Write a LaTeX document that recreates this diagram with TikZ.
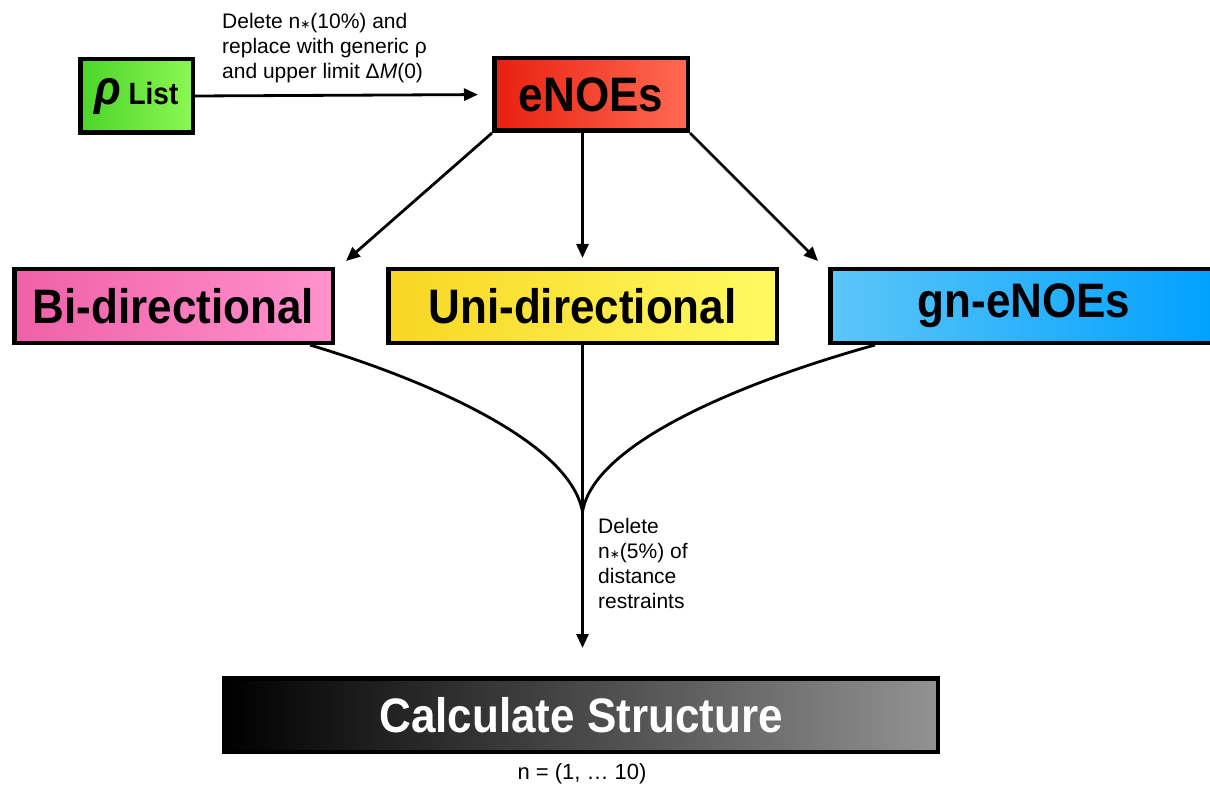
\documentclass[tikz,border=0pt]{standalone}
\usepackage{graphicx}
\usepackage{fontspec}
\setmainfont{Liberation Sans}
\newfontfamily\symfont{DejaVu Sans}
\usetikzlibrary{arrows.meta}
\definecolor{grnL}{HTML}{4CD42A}
\definecolor{grnR}{HTML}{8AF852}
\definecolor{redL}{HTML}{E82010}
\definecolor{redR}{HTML}{FF6A52}
\definecolor{pnkL}{HTML}{F060A8}
\definecolor{pnkR}{HTML}{FF92CE}
\definecolor{ylwL}{HTML}{F8D622}
\definecolor{ylwR}{HTML}{FFFA62}
\definecolor{bluL}{HTML}{5CC6F8}
\definecolor{bluR}{HTML}{00A0FF}
\definecolor{gryR}{HTML}{929292}
\newcommand\tallt[1]{\scalebox{1}[1.1]{#1}}
\newcommand\nast{n{\symfont\fontsize{12}{12}\selectfont ∗}}

\begin{document}
\begin{tikzpicture}[x=1pt,y=-1pt,>={Triangle[length=14pt,width=12pt]},
  box/.style={draw,line width=4.5pt,inner sep=0pt,minimum height=73.5pt,
    font=\bfseries\fontsize{44}{48}\selectfont},
  note/.style={align=left,inner sep=0pt,font=\fontsize{21}{25}\selectfont},
  link/.style={line width=2.8pt}]
  \useasboundingbox (0,0) rectangle (1210,786);

  \node[box,minimum width=112.5pt,left color=grnL,right color=grnR] (rho) at (136.5,96)
    {\tallt{{\fontsize{44}{48}\selectfont\itshape ρ}\,{\fontsize{28}{32}\selectfont List}}};
  \node[box,minimum width=193.5pt,minimum height=72.5pt,left color=redL,right color=redR] (en) at (591,94.5) {\tallt{eNOEs}};
  \node[box,minimum width=318.5pt,left color=pnkL,right color=pnkR] (bi) at (173.5,306) {\tallt{Bi-directional}};
  \node[box,minimum width=388.5pt,left color=ylwL,right color=ylwR] (un) at (582.5,306) {\tallt{Uni-directional}};
  \node[box,minimum width=387.5pt,left color=bluL,right color=bluR] (gn) at (1024,306) {\tallt{gn-eNOEs}};
  \node[box,minimum width=713.5pt,left color=black,right color=gryR,text=white] (calc) at (581,715) {\tallt{Calculate Structure}};

  \node[note,anchor=north west] (del1) at (222,13)
    {Delete \nast(10\%) and\\replace with generic ρ\\and upper limit Δ\textit{M}(0)};
  \node[note,anchor=north west] (del2) at (598,518)
    {Delete\\\nast(5\%) of\\distance\\restraints};
  \node[inner sep=0pt,font=\fontsize{22}{26}\selectfont] (nrun) at (582,774) {n = (1, … 10)};

  \coordinate (m) at (582.5,512);

  \draw[link,->,shorten >=14pt] (rho.east) -- (en.west);
  \draw[link,->] (en.south west) -- ([xshift=11pt,yshift=6pt]bi.north east);
  \draw[link,->,shorten >=9pt] (en.south -| un.north) -- (un.north);
  \draw[link,->] (en.south east) -- ([xshift=-10pt,yshift=6pt]gn.north west);

  \draw[link] ([xshift=-25pt]bi.south east) .. controls +(110,33) and +(-12.5,-72) .. (m);
  \draw[link] ([xshift=47pt]gn.south west) .. controls +(-119,33) and +(11.5,-72) .. (m);
  \draw[link,->,shorten >=28pt] (un.south) -- (calc.north -| un.south);
\end{tikzpicture}
\end{document}
